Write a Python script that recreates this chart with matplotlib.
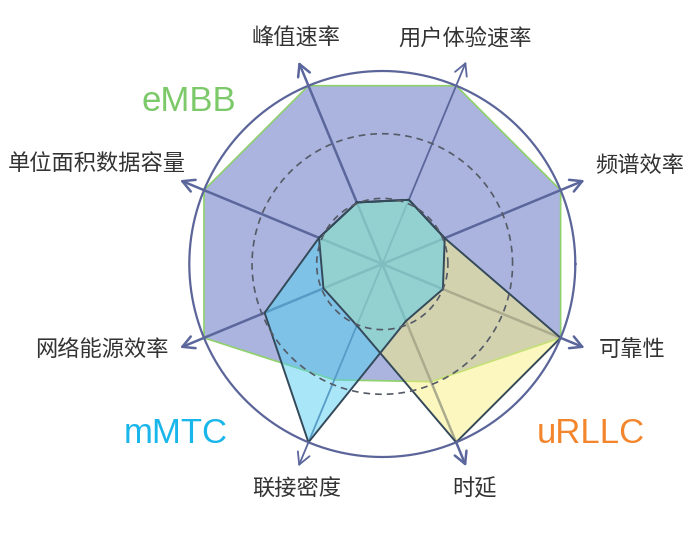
import numpy as np
import matplotlib
matplotlib.use("Agg")
from matplotlib import pyplot as plt

plt.rcParams['font.family'] = ['Noto Sans CJK SC', 'DejaVu Sans']

# axes of the radar, clockwise from the top-left one
categories = ['峰值速率', '用户体验速率', '频谱效率', '可靠性',
              '时延', '联接密度', '网络能源效率', '单位面积数据容量']
angles_deg = [112.5, 67.5, 22.5, -22.5, -67.5, -112.5, -157.5, 157.5]

# scenario values (outer ring = 1)
embb = [1.0, 1.0, 1.0, 1.0, 0.66, 0.65, 1.0, 1.0]
mmtc = [0.345, 0.36, 0.35, 0.34, 0.32, 1.0, 0.66, 0.355]
urllc = [0.345, 0.36, 0.35, 1.0, 1.0, 0.345, 0.33, 0.355]
rings = [0.34, 0.675]

# label layout in pixels (x, y from top)
label_px = [(296, 38), (465, 38), (640, 165), (632, 350),
            (474, 489), (297, 489), (102, 350), (97, 164)]

W, H = 700, 538
fig = plt.figure(figsize=(7, 5.38), dpi=100)
cx, cy, R = 382.3, 264, 193.0
rmax = 1.15
half = rmax * R
ax = fig.add_axes([(cx - half) / W, (H - cy - half) / H, 2 * half / W, 2 * half / H],
                  projection='polar')
ax.set_ylim(0, rmax)
ax.axis('off')

theta = np.deg2rad(angles_deg)


def closed(vals):
    return np.append(theta, theta[0]), np.append(vals, vals[0])


# eMBB on the bottom
t, r = closed(embb)
ax.fill(t, r, color='#aab4de', zorder=1, lw=0)
ax.plot(t, r, color='#8fd16b', lw=1.2, zorder=1.2)

# axis arrows
for i, th in enumerate(theta):
    lw = 1.3 if i in (1, 5) else 1.8
    ax.annotate('', xy=(th, 1.135), xytext=(0, 0),
                arrowprops=dict(arrowstyle='->,head_length=0.65,head_width=0.35',
                                color='#5b679c', lw=lw, shrinkA=0, shrinkB=0,
                                mutation_scale=13),
                annotation_clip=False, zorder=1.5)

# uRLLC then mMTC
t, r = closed(urllc)
ax.fill(t, r, color='#fbf181', alpha=0.5, zorder=2, lw=0)
ax.plot(t, r, color='#34495a', lw=1.4, zorder=4)
t, r = closed(mmtc)
ax.fill(t, r, color='#55d0f2', alpha=0.5, zorder=3, lw=0)
ax.plot(t, r, color='#34495a', lw=1.4, zorder=4)

# rings
circ = np.linspace(0, 2 * np.pi, 361)
for rv in rings:
    ax.plot(circ, np.full_like(circ, rv), color='#555b66', lw=1.2,
            ls=(0, (4, 3)), zorder=5)
ax.plot(circ, np.ones_like(circ), color='#5b6599', lw=1.6, zorder=5)

for name, (x, y) in zip(categories, label_px):
    fig.text(x / W, 1 - y / H, name, ha='center', va='center',
             fontsize=16, color='#333333')

fig.text(188.8 / W, 1 - 111 / H, 'eMBB', ha='center', va='baseline',
         fontsize=25, color='#7cc96a', family='Liberation Sans')
fig.text(175.5 / W, 1 - 442.7 / H, 'mMTC', ha='center', va='baseline',
         fontsize=25, color='#18b6ea', family='Liberation Sans')
fig.text(590.8 / W, 1 - 442.7 / H, 'uRLLC', ha='center', va='baseline',
         fontsize=25, color='#f3862c', family='Liberation Sans')

fig.savefig('out.png', dpi=100)
